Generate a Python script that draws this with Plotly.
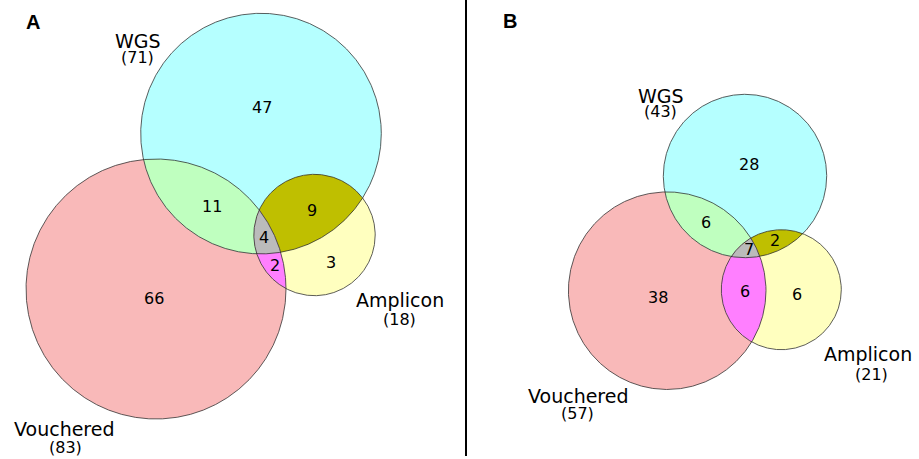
import numpy as np
import plotly.graph_objects as go

# ---------------- data ----------------
panels = ["A", "B"]
set_names = ["WGS", "Vouchered", "Amplicon"]
set_totals = {"A": [71, 83, 18], "B": [43, 57, 21]}
# region counts: only W, only V, only A, W&V, W&A, V&A, W&V&A
region_keys = ["W", "V", "A", "WV", "WA", "VA", "WVA"]
region_counts = {
    "A": [47, 66, 3, 11, 9, 2, 4],
    "B": [28, 38, 6, 6, 2, 6, 7],
}

# ---------------- layout / style ----------------
# circle geometry (pixel space) : (cx, cy, r) for WGS, Vouchered, Amplicon
circles = {
    "A": [(261, 133.6, 120.3), (156, 289, 130), (314.5, 235, 60.7)],
    "B": [(745, 176, 81.7), (667.2, 290.7, 98.8), (781.3, 289.7, 60)],
}
region_text_pos = {
    "A": [(261.7, 107.3), (154, 298.7), (330.7, 262), (212, 206),
          (311.7, 210), (275.3, 265.7), (264.3, 237.7)],
    "B": [(749.3, 164.7), (658, 297.3), (797, 294), (706, 222.3),
          (774.7, 240.7), (745.3, 291), (748.7, 249.3)],
}
label_pos = {
    "A": [(138, 40.7, 137, 57), (64, 429, 65, 447), (399.7, 300, 399.3, 319.3)],
    "B": [(660.5, 95.7, 660.3, 111.7), (578.5, 396, 577, 413.3), (867.7, 354, 871, 374)],
}
panel_letter_pos = {"A": (33, 22), "B": (510, 21)}

colors = {
    "W": "#b5ffff", "V": "#f9b9b9", "A": "#ffffbf",
    "WV": "#bfffbf", "WA": "#bfbf00", "VA": "#ff7fff", "WVA": "#bbbbbb",
}
FONT = "DejaVu Sans"

t = np.linspace(0, 2 * np.pi, 1441)[:-1]


def circ_pts(c):
    cx, cy, r = c
    return np.c_[cx + r * np.cos(t), cy + r * np.sin(t)]


def inside(p, c, tol=1e-9):
    cx, cy, r = c
    return (p[:, 0] - cx) ** 2 + (p[:, 1] - cy) ** 2 <= r * r + tol


def intersection_poly(cs):
    pts = []
    for i, c in enumerate(cs):
        p = circ_pts(c)
        m = np.ones(len(p), bool)
        for j, d in enumerate(cs):
            if j != i:
                m &= inside(p, d)
        pts.append(p[m])
    pts = np.vstack(pts)
    ctr = pts.mean(axis=0)
    ang = np.arctan2(pts[:, 1] - ctr[1], pts[:, 0] - ctr[0])
    pts = pts[np.argsort(ang)]
    return np.vstack([pts, pts[:1]])


fig = go.Figure()

for pn in panels:
    cW, cV, cA = circles[pn]
    # base circles
    for key, c in [("V", cV), ("W", cW), ("A", cA)]:
        p = circ_pts(c)
        p = np.vstack([p, p[:1]])
        fig.add_trace(go.Scatter(x=p[:, 0], y=p[:, 1], mode="lines", fill="toself",
                                 fillcolor=colors[key], line=dict(width=0),
                                 hoverinfo="skip", showlegend=False))
    # lenses and triple
    for key, cs in [("WV", [cW, cV]), ("WA", [cW, cA]), ("VA", [cV, cA]), ("WVA", [cW, cV, cA])]:
        p = intersection_poly(cs)
        fig.add_trace(go.Scatter(x=p[:, 0], y=p[:, 1], mode="lines", fill="toself",
                                 fillcolor=colors[key], line=dict(width=0),
                                 hoverinfo="skip", showlegend=False))
    # outlines
    for c in (cW, cV, cA):
        p = circ_pts(c)
        p = np.vstack([p, p[:1]])
        fig.add_trace(go.Scatter(x=p[:, 0], y=p[:, 1], mode="lines",
                                 line=dict(width=1, color="rgba(40,40,40,0.75)"),
                                 hoverinfo="skip", showlegend=False))
    # region counts
    for (x, y), n in zip(region_text_pos[pn], region_counts[pn]):
        fig.add_annotation(x=x, y=y, text=str(n), showarrow=False,
                           font=dict(family=FONT, size=16, color="black"))
    # set labels
    for (lx, ly, tx, ty), name, tot in zip(label_pos[pn], set_names, set_totals[pn]):
        fig.add_annotation(x=lx, y=ly, text=name, showarrow=False,
                           font=dict(family=FONT, size=19, color="black"))
        fig.add_annotation(x=tx, y=ty, text=f"({tot})", showarrow=False,
                           font=dict(family=FONT, size=16, color="black"))
    lx, ly = panel_letter_pos[pn]
    fig.add_annotation(x=lx, y=ly, text=f"<b>{pn}</b>", showarrow=False,
                       font=dict(family="Liberation Sans", size=20, color="black"))

fig.add_shape(type="line", x0=466, x1=466, y0=0, y1=456, xref="x", yref="y",
              line=dict(color="black", width=2))

fig.update_xaxes(range=[0, 919], visible=False, fixedrange=True)
fig.update_yaxes(range=[459, 0], visible=False, fixedrange=True)
fig.update_layout(width=919, height=459, margin=dict(l=0, r=0, t=0, b=0),
                  plot_bgcolor="white", paper_bgcolor="white", showlegend=False)

fig.write_html("out.html", config={"displayModeBar": False},
               post_script="document.body.style.margin='0';document.body.style.overflow='hidden';")
